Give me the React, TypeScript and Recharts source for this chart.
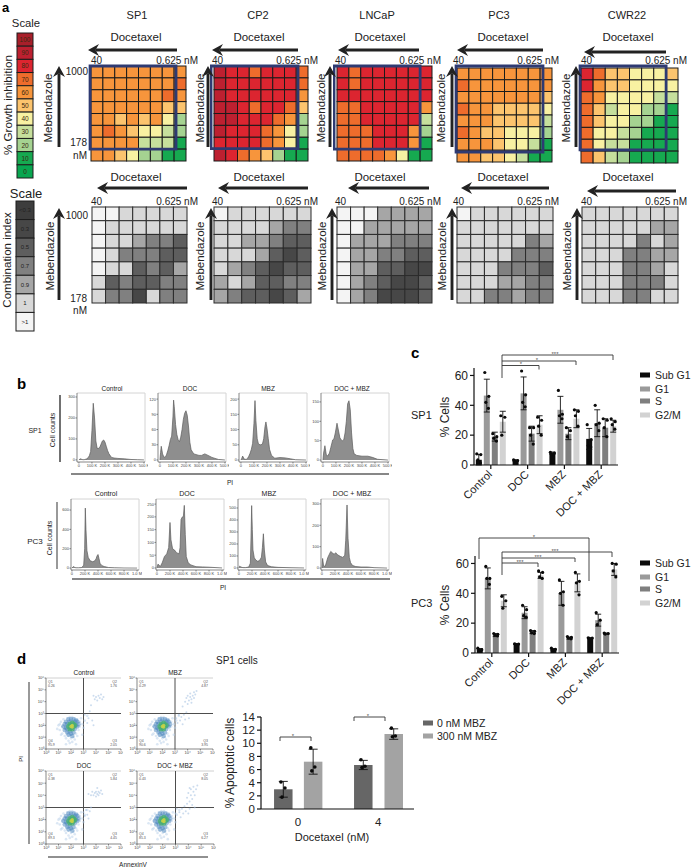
import {
  Area,
  AreaChart,
  Bar,
  Cell,
  ComposedChart,
  ErrorBar,
  Line,
  ReferenceArea,
  ReferenceLine,
  Scatter,
  ScatterChart,
  XAxis,
  YAxis,
} from "recharts";

// ---- panel a: growth inhibition (top to bottom, 40 -> 0.625 nM)
const growthLevels = [100, 90, 80, 70, 60, 50, 40, 30, 20, 10, 0];
const growthColors = ["#a81f2a", "#bd2030", "#dc2530", "#ee6c2c", "#f7953c", "#fcc46e", "#f8f1a2", "#c6df9c", "#a5d391", "#16a950", "#08a650"];
const sp1Growth = [
  [60, 60, 60, 60, 60, 60, 60, 60],
  [60, 60, 60, 60, 60, 60, 60, 70],
  [60, 60, 60, 60, 60, 60, 70, 60],
  [60, 60, 60, 60, 60, 60, 50, 50],
  [60, 60, 50, 60, 50, 60, 40, 20],
  [60, 70, 60, 50, 40, 40, 30, 20],
  [60, 60, 60, 60, 30, 30, 30, 10],
  [60, 60, 50, 40, 20, 20, 10, 10],
];
const cp2Growth = [
  [90, 80, 80, 70, 80, 80, 80, 70],
  [90, 80, 80, 80, 80, 80, 80, 70],
  [90, 80, 80, 80, 80, 80, 80, 60],
  [90, 90, 80, 70, 80, 80, 70, 50],
  [90, 90, 80, 80, 80, 70, 60, 20],
  [90, 80, 80, 80, 70, 60, 40, 20],
  [80, 80, 80, 80, 70, 60, 40, 10],
  [90, 80, 70, 60, 50, 20, 10, 10],
];
const lncapGrowth = [
  [80, 70, 80, 80, 80, 80, 80, 80],
  [80, 70, 80, 80, 80, 80, 80, 80],
  [80, 80, 80, 80, 80, 80, 80, 80],
  [70, 70, 80, 80, 80, 80, 80, 60],
  [70, 70, 80, 80, 80, 80, 80, 30],
  [70, 70, 70, 80, 80, 80, 60, 20],
  [70, 70, 70, 80, 80, 80, 60, 10],
  [70, 70, 70, 70, 60, 40, 10, 10],
];
const pc3Growth = [
  [60, 60, 60, 60, 60, 60, 60, 60],
  [70, 60, 60, 60, 60, 60, 60, 60],
  [60, 60, 60, 60, 60, 60, 60, 50],
  [70, 60, 60, 50, 50, 50, 50, 40],
  [60, 60, 60, 50, 50, 50, 50, 30],
  [70, 60, 50, 50, 40, 40, 40, 20],
  [60, 60, 60, 50, 40, 40, 30, 10],
  [60, 60, 50, 50, 40, 30, 10, 10],
];
const cwr22Growth = [
  [80, 70, 50, 50, 40, 40, 40, 50],
  [80, 60, 50, 50, 40, 40, 40, 40],
  [70, 60, 40, 40, 40, 40, 30, 30],
  [70, 50, 30, 40, 40, 20, 20, 10],
  [70, 50, 40, 40, 20, 20, 10, 10],
  [70, 40, 40, 30, 20, 10, 10, 10],
  [70, 40, 30, 30, 10, 10, 10, 10],
  [70, 50, 30, 20, 10, 10, 10, 10],
];

// ---- panel a: combination index (1.1 stands for ">1", 0.2 for "<0.3")
const ciLabels = ["<0.3", "0.3", "0.5", "0.7", "0.9", "1", ">1"];
const ciLevels = [0.2, 0.3, 0.5, 0.7, 0.9, 1, 1.1];
const ciColors = ["#3d3d3d", "#474747", "#5e5e5e", "#808080", "#a6a6a6", "#d8d8d8", "#f4f4f4"];
const sp1Ci = [
  [1.1, 1.1, 1, 1, 1, 1, 1],
  [1.1, 1, 1, 1, 1, 1, 1],
  [1.1, 1, 1, 0.9, 0.7, 0.7, 0.5],
  [1.1, 1, 0.7, 0.7, 0.7, 0.5, 0.5],
  [1.1, 1, 1, 0.5, 0.7, 0.5, 0.9],
  [1, 0.5, 0.7, 0.5, 0.5, 0.7, 0.7],
  [1, 0.7, 0.7, 0.3, 1, 0.7, 0.7],
];
const cp2Ci = [
  [1.1, 1, 1, 1, 1, 1, 1],
  [1, 1, 1, 1, 0.9, 0.7, 0.7],
  [1, 1, 0.9, 0.9, 0.7, 0.5, 0.5],
  [1, 1, 1, 0.9, 0.5, 0.3, 0.5],
  [1, 0.9, 0.7, 0.5, 0.3, 0.5, 0.5],
  [0.9, 1, 0.9, 0.5, 0.5, 0.7, 0.7],
  [0.9, 0.7, 0.5, 0.5, 0.3, 0.5, 0.9],
];
const lncapCi = [
  [1.1, 1.1, 1.1, 0.9, 0.9, 0.9, 0.9],
  [1.1, 1.1, 0.9, 0.9, 0.9, 0.9, 0.9],
  [1.1, 0.9, 0.9, 0.9, 0.7, 0.7, 0.7],
  [1.1, 0.9, 0.9, 0.7, 0.7, 0.5, 0.5],
  [1.1, 0.9, 0.9, 0.5, 0.5, 0.3, 0.3],
  [1.1, 0.9, 0.7, 0.5, 0.3, 0.3, 0.5],
  [1.1, 0.9, 0.7, 0.3, 0.3, 0.3, 0.5],
];
const pc3Ci = [
  [1.1, 1, 1, 1, 1, 1, 1],
  [1, 1, 1, 1, 1, 1, 1],
  [1, 1, 1, 1, 1, 0.7, 0.9],
  [1, 1, 1, 1, 0.7, 0.7, 0.7],
  [1, 1, 1, 0.7, 0.7, 0.7, 0.5],
  [1, 1, 1, 0.9, 0.9, 0.7, 0.7],
  [1, 1, 0.7, 0.7, 0.9, 0.7, 0.7],
];
const cwr22Ci = [
  [1, 1, 1, 1, 1, 1, 1],
  [1, 1, 1, 1, 1, 0.9, 0.9],
  [1, 1, 1, 1, 0.7, 1, 0.9],
  [1, 1, 1, 0.7, 0.7, 0.9, 0.9],
  [1, 1, 1, 0.7, 0.7, 0.9, 1],
  [1, 1, 1, 0.7, 0.7, 0.7, 1],
  [1, 1, 1, 0.7, 0.7, 1, 1],
];

// ---- panel b: PI histograms, x in thousands
const sp1CtrlX = [0, 10, 20, 30, 40, 50, 60, 70, 80, 90, 100, 110, 120, 130, 140, 150, 160, 170, 180, 190, 200, 210, 220, 230, 250, 270, 300, 350, 400, 450, 500];
const sp1CtrlY = [0, 5, 3, 1, 1, 3, 5, 10, 20, 40, 140, 270, 200, 90, 55, 55, 60, 75, 90, 95, 85, 65, 45, 30, 12, 9, 7, 5, 2, 1, 0];
const sp1DocX = [0, 5, 10, 20, 30, 40, 50, 60, 70, 80, 90, 100, 105, 110, 120, 130, 140, 150, 160, 170, 180, 190, 200, 210, 220, 230, 240, 260, 300, 320, 345, 370, 400, 450, 500];
const sp1DocY = [0, 15, 27, 12, 6, 5, 10, 18, 28, 40, 47, 85, 118, 105, 70, 50, 40, 36, 45, 60, 80, 92, 97, 88, 65, 35, 20, 12, 9, 9, 12, 9, 5, 1, 0];
const sp1MbzX = [0, 5, 13, 25, 40, 50, 60, 70, 80, 90, 100, 108, 115, 125, 135, 150, 165, 175, 185, 192, 200, 210, 220, 235, 260, 300, 340, 380, 420, 500];
const sp1MbzY = [0, 4, 13, 3, 2, 5, 12, 22, 35, 55, 120, 195, 130, 70, 52, 50, 52, 70, 110, 125, 105, 70, 35, 15, 6, 8, 7, 4, 1, 0];
const sp1ComboX = [0, 5, 15, 25, 35, 50, 60, 75, 85, 95, 108, 120, 130, 140, 150, 160, 170, 180, 190, 200, 210, 220, 230, 240, 260, 300, 345, 380, 420, 500];
const sp1ComboY = [0, 18, 37, 15, 10, 18, 32, 52, 55, 70, 95, 75, 58, 52, 50, 52, 70, 100, 145, 153, 130, 70, 30, 16, 12, 10, 10, 7, 2, 0];
const pc3CtrlX = [0, 20, 40, 60, 100, 150, 180, 195, 205, 215, 230, 250, 280, 320, 350, 370, 385, 400, 415, 430, 460, 500, 560, 650, 800, 1000];
const pc3CtrlY = [0, 15, 8, 3, 3, 5, 30, 200, 620, 400, 180, 110, 75, 65, 75, 95, 125, 140, 100, 50, 25, 15, 6, 3, 1, 0];
const pc3DocX = [0, 15, 30, 50, 80, 115, 150, 180, 200, 215, 240, 270, 300, 340, 355, 370, 390, 405, 420, 435, 450, 480, 520, 600, 700, 800, 1000];
const pc3DocY = [0, 15, 12, 5, 20, 45, 55, 80, 178, 110, 75, 70, 60, 55, 80, 190, 200, 200, 245, 130, 45, 20, 12, 5, 4, 3, 0];
const pc3MbzX = [0, 10, 30, 60, 100, 150, 175, 185, 195, 205, 215, 235, 260, 290, 320, 345, 360, 375, 390, 410, 440, 500, 600, 800, 1000];
const pc3MbzY = [0, 15, 8, 3, 3, 8, 40, 250, 520, 320, 150, 85, 65, 55, 65, 90, 170, 285, 150, 50, 20, 10, 5, 2, 0];
const pc3ComboX = [0, 10, 25, 50, 90, 135, 170, 190, 210, 240, 280, 320, 350, 365, 385, 400, 420, 440, 470, 520, 600, 700, 800, 1000];
const pc3ComboY = [0, 45, 10, 8, 50, 78, 68, 65, 72, 62, 55, 50, 60, 130, 295, 140, 50, 25, 12, 7, 5, 5, 2, 0];

const sp1HistTicks = [0, 100, 200, 300, 400, 500];
const pc3HistTicks = [0, 200, 400, 600, 800, 1000];

// ---- panel c: cell cycle, one entry per bar
const cycleGroups = ["Control", "DOC", "MBZ", "DOC + MBZ"];
const cyclePhases = ["Sub G1", "G1", "S", "G2/M"];
const phaseColors = ["#0b0b0b", "#9a9a9a", "#7f7f7f", "#d2d2d2"];
const sp1Means = [3.5, 46.5, 19, 29, 3, 48, 21, 27, 8, 37, 21, 31, 17.5, 28, 25, 26];
const sp1Errors = [3.5, 11, 3, 7, 0.5, 11, 5, 6, 0.7, 9, 4, 6, 7, 9, 6, 4];
const sp1Reps = [
  [7.5, 7, 3.4, 1.5], [62, 46, 42, 38], [21, 19, 18, 16], [33, 32, 20],
  [3.5, 3, 2.8], [63, 47, 42, 39], [25, 25, 20, 14], [32, 30, 26, 20],
  [8.5, 8, 7], [50, 34, 33, 31], [25, 23, 19], [37, 36, 33, 26],
  [27, 17, 13, 12], [40, 28, 27, 23], [31, 30, 25, 19], [31, 29, 27, 24],
];
const pc3Means = [2.5, 50, 12, 35, 6, 27, 14, 52, 2.5, 40, 10, 47, 10, 22, 13, 56];
const pc3Errors = [0.5, 7, 1, 4, 0.3, 4, 1, 2, 0.5, 8, 0.7, 6, 0.3, 4, 0.4, 4];
const pc3Reps = [
  [3.2, 2.2, 2], [58, 50, 50, 46], [13, 12.5, 12, 11.5], [38, 35, 30],
  [6.2, 6, 5.8], [32, 29, 25, 24], [15, 14.5, 13.5, 13], [55, 54, 51, 50],
  [3.2, 2.5, 2], [49, 41, 40, 32], [11, 10.5, 10, 9.5], [54, 48, 47, 39],
  [10.2, 10, 9.8], [27, 22, 19], [13.4, 13, 12.7], [60, 59.5, 55, 51],
];

// ---- panel d: apoptosis bars
const apoCategories = ["0", "4"];
const apoSeries = ["0 nM MBZ", "300 nM MBZ"];
const apoColors = ["#666666", "#a3a3a3"];
const apoMeans = [3, 7.2, 6.7, 11.4];
const apoErrors = [1.2, 1.9, 0.7, 0.8];
const apoReps = [[4.1, 3.2, 1.8], [9.3, 6.4, 5.8], [7.5, 6.5, 6.3], [12.3, 11.1, 11]];

// ---- panel d: AnnexinV/PI dots, both axes in log10 decades
const haloCells = [
  [1.0, 2.0], [1.1, 1.6], [1.2, 2.3], [1.3, 1.9], [1.3, 1.3], [1.4, 2.5], [1.5, 1.1], [1.5, 1.7], [1.6, 2.2], [1.6, 0.9],
  [1.7, 2.6], [1.7, 1.4], [1.8, 0.7], [1.8, 1.1], [1.9, 2.7], [1.9, 0.5], [2.0, 0.9], [2.0, 1.2], [2.1, 2.7], [2.1, 0.6],
  [2.2, 1.0], [2.3, 2.6], [2.3, 0.8], [2.4, 1.3], [2.5, 2.5], [2.5, 1.1], [2.6, 1.6], [2.7, 2.3], [2.7, 1.9], [2.8, 2.6],
  [2.9, 2.1], [3.0, 1.8], [3.1, 2.4], [1.2, 1.2], [2.4, 0.4], [1.6, 0.4], [3.3, 2.8], [2.9, 1.2], [0.9, 1.7], [1.1, 2.1],
];
const midCells = [
  [1.4, 1.9], [1.5, 2.1], [1.5, 1.6], [1.6, 1.8], [1.6, 2.3], [1.7, 1.4], [1.7, 2.1], [1.8, 1.2], [1.8, 2.5], [1.9, 1.5],
  [2.0, 1.3], [2.0, 2.5], [2.1, 1.1], [2.2, 1.4], [2.2, 2.5], [2.3, 1.7], [2.4, 2.4], [2.4, 2.0], [2.5, 1.9], [2.5, 2.3],
  [2.6, 2.1], [1.9, 2.3], [1.7, 1.7], [2.3, 2.3],
];
const coreCells = [[1.8, 1.9], [1.9, 1.7], [1.9, 2.1], [2.0, 1.8], [2.0, 2.0], [2.1, 1.7], [2.1, 2.2], [2.2, 1.9], [2.2, 2.1], [2.3, 2.0]];
const peakCells = [[2.0, 1.9], [2.1, 2.0], [2.1, 1.85]];
const ctrlLate = [[3.1, 2.9], [3.4, 2.6], [3.5, 3.2], [3.7, 2.4], [3.6, 3.7], [3.9, 4.2], [4.0, 4.4], [4.1, 4.1], [4.2, 4.5], [4.3, 4.3], [4.4, 4.6], [4.5, 4.2], [3.8, 4.5], [4.6, 4.4], [3.3, 2.2], [3.8, 2.0]];
const mbzLate = [[3.1, 2.6], [3.2, 2.2], [3.3, 2.9], [3.4, 2.4], [3.5, 2.7], [3.6, 2.1], [3.7, 2.9], [3.8, 2.5], [3.9, 3.1], [4.1, 2.6], [3.6, 3.6], [3.8, 4.0], [3.9, 4.3], [4.0, 4.5], [4.1, 4.1], [4.2, 4.4], [4.2, 4.7], [4.3, 4.2], [4.4, 4.5], [4.5, 4.3], [4.5, 4.8], [4.6, 4.6], [4.7, 4.9], [4.0, 3.8], [4.3, 3.9]];
const docLate = [[3.0, 2.6], [3.1, 2.3], [3.2, 2.8], [3.3, 2.4], [3.4, 2.1], [3.5, 2.7], [3.6, 3.0], [3.4, 4.1], [3.6, 4.0], [3.7, 4.3], [3.8, 4.0], [3.9, 4.2], [4.0, 3.9], [4.0, 4.3], [4.1, 4.1], [4.2, 4.3], [4.2, 4.0], [4.3, 4.2], [4.4, 4.4], [4.5, 4.1], [4.1, 4.6]];
const comboLate = [[3.0, 2.5], [3.1, 2.9], [3.3, 2.6], [3.4, 2.2], [3.5, 2.9], [3.6, 2.5], [3.7, 3.1], [3.8, 2.7], [3.9, 3.3], [4.0, 2.5], [4.1, 2.9], [3.9, 3.8], [4.0, 4.2], [4.1, 3.5], [4.2, 4.0], [4.2, 4.5], [4.3, 3.2], [4.3, 3.7], [4.4, 4.3], [4.4, 4.7], [4.5, 3.0], [4.5, 4.0], [4.6, 4.5], [4.7, 4.8], [4.1, 4.6]];
const ctrlQuad = ["0.26", "1.76", "95.9", "2.05"];
const mbzQuad = ["0.29", "4.87", "90.6", "3.95"];
const docQuad = ["0.38", "5.84", "89.3", "4.45"];
const comboQuad = ["0.43", "8.05", "85.3", "6.27"];

const FONT = "'Liberation Sans', Arial, sans-serif";
const INK = "#222222";

function Place({ x, y, children }: any) {
  return <div style={{ position: "absolute", left: x, top: y }}>{children}</div>;
}

function pick(levels: number[], colors: string[], v: number) {
  return colors[levels.indexOf(v)] ?? "#ffffff";
}

// grid of squares drawn through two hidden numeric axes
function HeatGrid({ rows, levels, colors, box, stroke, labels, labelSize, labelFill }: any) {
  const pad = 4;
  const n = rows.length;
  const m = rows[0].length;
  const cw = box.w / m;
  const ch = box.h / n;
  const cells = rows.flatMap((r: number[], i: number) =>
    r.map((v, j) => ({ col: j + 0.5, row: n - i - 0.5, v, label: labels ? labels[i] : null }))
  );
  return (
    <Place x={box.x - pad} y={box.y - pad}>
      <ScatterChart width={box.w + pad * 2} height={box.h + pad * 2} margin={{ top: pad, right: pad, bottom: pad, left: pad }}>
        <XAxis type="number" dataKey="col" domain={[0, m]} hide />
        <YAxis type="number" dataKey="row" domain={[0, n]} hide />
        <Scatter
          data={cells}
          isAnimationActive={false}
          shape={(p: any) => (
            <g>
              <rect x={p.cx - cw / 2} y={p.cy - ch / 2} width={cw} height={ch} fill={pick(levels, colors, p.payload.v)} stroke={stroke} strokeWidth={1} />
              {p.payload.label != null && (
                <text x={p.cx} y={p.cy} textAnchor="middle" dominantBaseline="central" fontSize={labelSize} fill={labelFill} fontFamily={FONT}>
                  {p.payload.label}
                </text>
              )}
            </g>
          )}
        />
      </ScatterChart>
    </Place>
  );
}

// the blue outline sits in its own chart so that it lies on top of the cells
function GateBox({ box, gate, n }: any) {
  const pad = 4;
  return (
    <Place x={box.x - pad} y={box.y - pad}>
      <ScatterChart width={box.w + pad * 2} height={box.h + pad * 2} margin={{ top: pad, right: pad, bottom: pad, left: pad }}>
        <XAxis type="number" dataKey="col" domain={[0, n]} hide />
        <YAxis type="number" dataKey="row" domain={[0, n]} hide />
        <Scatter data={[{ col: 0, row: 0 }]} isAnimationActive={false} shape={() => <g />} />
        <ReferenceArea x1={gate[0]} x2={gate[1]} y1={gate[2]} y2={gate[3]} fill="none" fillOpacity={0} stroke="#2e3a72" strokeWidth={2.8} ifOverflow="visible" />
      </ScatterChart>
    </Place>
  );
}

function Histogram({ xs, ys, box, xDomain, yDomain, xTicks, yTicks, fmt }: any) {
  const data = xs.map((x: number, i: number) => ({ x, y: ys[i] }));
  const tick = { fontSize: 4, fill: "#444", fontFamily: FONT };
  return (
    <Place x={box.x - 20} y={box.y - 2}>
      <AreaChart width={box.w + 23} height={box.h + 12} data={data} margin={{ top: 2, right: 3, bottom: 0, left: 0 }}>
        <XAxis type="number" dataKey="x" domain={xDomain} ticks={xTicks} interval={0} tick={tick} tickSize={1.5} tickMargin={0.5} height={10} tickFormatter={fmt} stroke="#555" strokeWidth={0.7} />
        <YAxis type="number" domain={yDomain} ticks={yTicks} interval={0} tick={tick} tickSize={1.5} tickMargin={0.5} width={20} stroke="#555" strokeWidth={0.7} />
        <ReferenceLine x={xDomain[1]} stroke="#d4d4d4" strokeWidth={1} />
        <ReferenceLine y={yDomain[1]} stroke="#d4d4d4" strokeWidth={1} />
        <Area type="linear" dataKey="y" baseValue={0} stroke="#5c5c5c" strokeWidth={0.7} fill="#8e8e8e" fillOpacity={1} dot={false} isAnimationActive={false} />
      </AreaChart>
    </Place>
  );
}

const kLabel = (v: number) => (v === 0 ? "0" : `${v} K`);
const mLabel = (v: number) => (v === 0 ? "0" : v === 1000 ? "1.0 M" : `${v} K`);

const repJitter = [-2, 2, -1, 1.6];

function repDot(key: string, rep: number, r: number) {
  return (p: any) => {
    if (p.value == null || p.cy == null) return <g key={`${key}-${p.index}`} />;
    return <circle key={`${key}-${p.index}`} cx={p.cx + repJitter[rep]} cy={p.cy} r={r} fill="#0a0a0a" />;
  };
}

function CycleChart({ means, errors, reps, x, y }: any) {
  const rows = means.map((m: number, i: number) => {
    const row: any = { pos: i + Math.floor(i / 4) * 0.6, mean: m, err: errors[i] };
    reps[i].forEach((v: number, k: number) => (row[`r${k}`] = v));
    return row;
  });
  const centers = cycleGroups.map((_, g) => g * 4.6 + 1.5);
  const labelTick = ({ x: tx, y: ty, payload }: any) => (
    <text x={tx + 2} y={ty + 4} textAnchor="end" fontSize={11} fill={INK} fontFamily={FONT} transform={`rotate(-45 ${tx + 2} ${ty + 4})`}>
      {cycleGroups[centers.indexOf(payload.value)]}
    </text>
  );
  return (
    <Place x={x} y={y}>
      <ComposedChart width={180} height={170} data={rows} margin={{ top: 6, right: 2, bottom: 0, left: 0 }}>
        <XAxis type="number" dataKey="pos" domain={[-0.6, 17.4]} ticks={centers} interval={0} tick={labelTick} height={67} stroke="#111" strokeWidth={1.2} tickSize={4} />
        <YAxis type="number" domain={[0, 65]} ticks={[0, 20, 40, 60]} width={34} tick={{ fontSize: 12, fill: INK, fontFamily: FONT }} stroke="#111" strokeWidth={1.2} tickSize={4} />
        <Bar dataKey="mean" barSize={6} isAnimationActive={false}>
          {rows.map((_: any, i: number) => (
            <Cell key={i} fill={phaseColors[i % 4]} />
          ))}
          <ErrorBar dataKey="err" width={3} stroke="#111" strokeWidth={0.9} isAnimationActive={false} />
        </Bar>
        {[0, 1, 2, 3].map((k) => (
          <Line key={k} dataKey={`r${k}`} stroke="none" dot={repDot(`r${k}`, k, 1.6)} activeDot={false} isAnimationActive={false} />
        ))}
      </ComposedChart>
    </Place>
  );
}

function ApoptosisChart({ x, y }: any) {
  const slots = [-0.5, 0.5, 2.18, 3.2];
  const centers = [0, 2.69];
  const rows = apoMeans.map((m, i) => ({
    pos: slots[i],
    mean: m,
    err: apoErrors[i],
    r0: apoReps[i][0],
    r1: apoReps[i][1],
    r2: apoReps[i][2],
  }));
  return (
    <Place x={x} y={y}>
      <ComposedChart width={185} height={122} data={rows} margin={{ top: 6, right: 2, bottom: 0, left: 0 }}>
        <XAxis
          type="number"
          dataKey="pos"
          domain={[-1.236, 3.89]}
          ticks={centers}
          interval={0}
          tickFormatter={(v: number) => apoCategories[centers.indexOf(v)]}
          tick={{ fontSize: 11.5, fill: INK, fontFamily: FONT }}
          tickLine={false}
          tickMargin={3}
          height={24}
          stroke="#111"
          strokeWidth={1.2}
        />
        <YAxis type="number" domain={[0, 14]} ticks={[0, 2, 4, 6, 8, 10, 12, 14]} interval={0} width={30} tick={{ fontSize: 11.5, fill: INK, fontFamily: FONT }} stroke="#111" strokeWidth={1.2} tickSize={4} />
        <Bar dataKey="mean" barSize={18.5} isAnimationActive={false}>
          {rows.map((_, i) => (
            <Cell key={i} fill={apoColors[i % 2]} />
          ))}
          <ErrorBar dataKey="err" width={4.5} stroke="#111" strokeWidth={0.9} isAnimationActive={false} />
        </Bar>
        {[0, 1, 2].map((k) => (
          <Line key={k} dataKey={`r${k}`} stroke="none" dot={repDot(`a${k}`, k, 1.8)} activeDot={false} isAnimationActive={false} />
        ))}
      </ComposedChart>
    </Place>
  );
}

const SUP = ["\u2070", "\u00b9", "\u00b2", "\u00b3", "\u2074", "\u2075", "\u2076"];
const toPoints = (list: number[][]) => list.map(([a, b]) => ({ a, b }));

function DotPlot({ box, late }: any) {
  const tick = { fontSize: 4, fill: "#444", fontFamily: FONT };
  const layer = (list: number[][], fill: string, r: number, opacity: number, name: string) => (
    <Scatter
      key={name}
      name={name}
      data={toPoints(list)}
      isAnimationActive={false}
      shape={(p: any) => <circle cx={p.cx} cy={p.cy} r={r} fill={fill} fillOpacity={opacity} />}
    />
  );
  return (
    <Place x={box.x - 15} y={box.y - 2}>
      <ScatterChart width={box.w + 17} height={box.h + 11} margin={{ top: 2, right: 2, bottom: 0, left: 0 }}>
        <XAxis type="number" dataKey="a" domain={[0, 6]} ticks={[0, 1, 2, 3, 4, 5, 6]} interval={0} tick={tick} tickSize={1.5} tickMargin={0.5} height={9} tickFormatter={(v: number) => `10${SUP[v]}`} stroke="#555" strokeWidth={0.7} />
        <YAxis type="number" dataKey="b" domain={[0, 6]} ticks={[0, 1, 2, 3, 4, 5, 6]} interval={0} tick={tick} tickSize={1.5} tickMargin={0.5} width={15} tickFormatter={(v: number) => `10${SUP[v]}`} stroke="#555" strokeWidth={0.7} />
        <ReferenceLine y={6} stroke="#d0d0d0" strokeWidth={1} />
        {layer(haloCells, "#b7d0ea", 1.3, 0.5, "halo")}
        {layer(late, "#a3c0e0", 1, 0.55, "late")}
        {layer(midCells, "#4a86be", 2.3, 0.5, "mid")}
        {layer(coreCells, "#47ad75", 2.5, 0.8, "core")}
        {layer(peakCells, "#c5d147", 1.7, 0.9, "peak")}
        <ReferenceLine x={3} stroke="#4d4d4d" strokeWidth={1} />
        <ReferenceLine y={3} stroke="#4d4d4d" strokeWidth={1} />
      </ScatterChart>
    </Place>
  );
}

function Arrow({ x1, y1, x2, y2 }: any) {
  const dx = Math.sign(x2 - x1);
  const dy = Math.sign(y2 - y1);
  const head =
    dx !== 0
      ? `${x2},${y2} ${x2 - dx * 11},${y2 - 6} ${x2 - dx * 7.5},${y2} ${x2 - dx * 11},${y2 + 6}`
      : `${x2},${y2} ${x2 - 6},${y2 - dy * 11} ${x2},${y2 - dy * 7.5} ${x2 + 6},${y2 - dy * 11}`;
  return (
    <g>
      <line x1={x1} y1={y1} x2={x2 - dx * 7.5} y2={y2 - dy * 7.5} stroke="#222" strokeWidth={2.9} />
      <polygon points={head} fill="#222" />
    </g>
  );
}

function Txt({ x, y, s, size = 11, anchor = "middle", rot, weight, fill = INK }: any) {
  return (
    <text
      x={x}
      y={y}
      fontSize={size}
      textAnchor={anchor}
      dominantBaseline="central"
      fontWeight={weight}
      fill={fill}
      fontFamily={FONT}
      transform={rot ? `rotate(${rot} ${x} ${y})` : undefined}
    >
      {s}
    </text>
  );
}

function Bracket({ x1, x2, y, dl, dr, star, sx }: any) {
  return (
    <g>
      <polyline points={`${x1},${y + dl} ${x1},${y} ${x2},${y} ${x2},${y + dr}`} fill="none" stroke="#333" strokeWidth={0.9} />
      <Txt x={sx} y={y - 1.5} s={star} size={6} fill="#555" />
    </g>
  );
}

// layout of panel a, one row per cell line
const growthPanels = [
  { name: "SP1", rows: sp1Growth, title: 137, doc: 136, a: [177, 88], h: 50, x40: 91, nm: 198, av: 59, mb: 48, box: { x: 91, y: 66, w: 95, h: 95 }, gate: [-0.08, 7.16, 1, 8] },
  { name: "CP2", rows: cp2Growth, title: 258, doc: 259, a: [298, 212], h: 50, x40: 212, nm: 318, av: 208, mb: 200, box: { x: 214, y: 66, w: 94, h: 95 }, gate: [-0.25, 7.15, 1.05, 8] },
  { name: "LNCaP", rows: lncapGrowth, title: 377, doc: 380, a: [419, 338], h: 50, x40: 335, nm: 441, av: 330, mb: 321, box: { x: 337, y: 66, w: 95, h: 95 }, gate: [-0.25, 7, 1, 8] },
  { name: "PC3", rows: pc3Growth, title: 499, doc: 503, a: [543, 457], h: 50, x40: 453, nm: 559, av: 452, mb: 441, box: { x: 457, y: 68, w: 95, h: 94 }, gate: [-0.08, 7.24, 0.85, 8.17] },
  { name: "CWR22", rows: cwr22Growth, title: 627, doc: 628, a: [666, 584], h: 52, x40: 581, nm: 687, av: 576, mb: 566, box: { x: 581, y: 68, w: 97, h: 95 }, gate: [-0.08, 7.02, 1.1, 8.17] },
];
const ciPanels = [
  { rows: sp1Ci, doc: 136, a: [187, 97], h: 188, x40: 91, nm: 198, av: 59, mb: 50, box: { x: 92, y: 207, w: 95, h: 96 } },
  { rows: cp2Ci, doc: 259, a: [308, 218], h: 188, x40: 212, nm: 318, av: 211, mb: 200, box: { x: 214, y: 207, w: 97, h: 96 } },
  { rows: lncapCi, doc: 380, a: [429, 348], h: 188, x40: 335, nm: 441, av: 332, mb: 322, box: { x: 337, y: 207, w: 95, h: 96 } },
  { rows: pc3Ci, doc: 503, a: [549, 461], h: 188, x40: 453, nm: 559, av: 452, mb: 442, box: { x: 457, y: 207, w: 96, h: 96 } },
  { rows: cwr22Ci, doc: 628, a: [676, 587], h: 191, x40: 581, nm: 687, av: 577, mb: 567, box: { x: 582, y: 207, w: 96, h: 96 } },
];
const histTitles = ["Control", "DOC", "MBZ", "DOC + MBZ"];
const sp1Hists = [
  { xs: sp1CtrlX, ys: sp1CtrlY, x: 77, yDomain: [-10, 319], yTicks: [0, 100, 200, 300], t: 112 },
  { xs: sp1DocX, ys: sp1DocY, x: 158, yDomain: [-4, 132], yTicks: [0, 30, 60, 90, 120], t: 190 },
  { xs: sp1MbzX, ys: sp1MbzY, x: 239, yDomain: [-6.5, 220], yTicks: [0, 50, 100, 150, 200], t: 268 },
  { xs: sp1ComboX, ys: sp1ComboY, x: 321, yDomain: [-5, 173], yTicks: [0, 50, 100, 150], t: 352 },
];
const pc3Hists = [
  { xs: pc3CtrlX, ys: pc3CtrlY, x: 71, yDomain: [-20, 714], yTicks: [0, 200, 400, 600], t: 106 },
  { xs: pc3DocX, ys: pc3DocY, x: 156, yDomain: [-8, 270], yTicks: [0, 50, 100, 150, 200, 250], t: 187 },
  { xs: pc3MbzX, ys: pc3MbzY, x: 238, yDomain: [-17, 575], yTicks: [0, 100, 200, 300, 400, 500], t: 269 },
  { xs: pc3ComboX, ys: pc3ComboY, x: 321, yDomain: [-9, 323], yTicks: [0, 100, 200, 300], t: 352 },
];
const dotPanels = [
  { title: "Control", late: ctrlLate, quad: ctrlQuad, box: { x: 46, y: 678, w: 75, h: 71 } },
  { title: "MBZ", late: mbzLate, quad: mbzQuad, box: { x: 137, y: 678, w: 76, h: 71 } },
  { title: "DOC", late: docLate, quad: docQuad, box: { x: 46, y: 771, w: 75, h: 73 } },
  { title: "DOC + MBZ", late: comboLate, quad: comboQuad, box: { x: 137, y: 771, w: 77, h: 73 } },
];
const quadNames = ["Q1", "Q2", "Q4", "Q3"];

export default function App() {
  return (
    <div style={{ position: "absolute", left: 0, top: 0, width: 692, height: 868, background: "#fff", overflow: "hidden", fontFamily: FONT }}>
      {/* panel a */}
      <HeatGrid rows={growthLevels.map((v) => [v])} levels={growthLevels} colors={growthColors} box={{ x: 17, y: 33, w: 16, h: 145 }} stroke="#1c1c1c" labels={growthLevels.map(String)} labelSize={6.5} labelFill="#3a2a10" />
      <HeatGrid rows={ciLevels.map((v) => [v])} levels={ciLevels} colors={ciColors} box={{ x: 16, y: 201, w: 18, h: 130 }} stroke="#1c1c1c" labels={ciLabels} labelSize={6} labelFill="#222" />
      {growthPanels.map((p) => (
        <HeatGrid key={p.name} rows={p.rows} levels={growthLevels} colors={growthColors} box={p.box} stroke="#1a1a1a" />
      ))}
      {growthPanels.map((p) => (
        <GateBox key={p.name} box={p.box} gate={p.gate} n={8} />
      ))}
      {ciPanels.map((p, i) => (
        <HeatGrid key={i} rows={p.rows} levels={ciLevels} colors={ciColors} box={p.box} stroke="#2b2b2b" />
      ))}

      {/* panel b */}
      {sp1Hists.map((h, i) => (
        <Histogram key={i} xs={h.xs} ys={h.ys} box={{ x: h.x, y: 393, w: 68, h: 69 }} xDomain={[-15, 508]} yDomain={h.yDomain} xTicks={sp1HistTicks} yTicks={h.yTicks} fmt={kLabel} />
      ))}
      {pc3Hists.map((h, i) => (
        <Histogram key={i} xs={h.xs} ys={h.ys} box={{ x: h.x, y: 499, w: 68, h: 71 }} xDomain={[-15, 1030]} yDomain={h.yDomain} xTicks={pc3HistTicks} yTicks={h.yTicks} fmt={mLabel} />
      ))}

      {/* panel c */}
      <CycleChart means={sp1Means} errors={sp1Errors} reps={sp1Reps} x={440} y={362} />
      <CycleChart means={pc3Means} errors={pc3Errors} reps={pc3Reps} x={441} y={550} />

      {/* panel d */}
      {dotPanels.map((p) => (
        <DotPlot key={p.title} box={p.box} late={p.late} />
      ))}
      <ApoptosisChart x={231} y={711} />

      {/* labels, arrows, brackets */}
      <svg width={692} height={868} style={{ position: "absolute", left: 0, top: 0, pointerEvents: "none" }}>
        <Txt x={2} y={7} s="a" size={13} weight="bold" anchor="start" fill="#000" />
        <Txt x={26} y={23} s="Scale" size={11.3} />
        <Txt x={26} y={193} s="Scale" size={13} />
        <Txt x={7} y={105} s="% Growth inhibition" size={11.6} rot={-90} />
        <Txt x={7} y={260} s="Combination index" size={11.5} rot={-90} />
        {growthPanels.map((p) => (
          <g key={p.name}>
            <Txt x={p.title} y={15} s={p.name} size={11} />
            <Txt x={p.doc} y={37} s="Docetaxel" size={11.5} />
            <Arrow x1={p.a[0]} y1={p.h} x2={p.a[1]} y2={p.h} />
            <Txt x={p.x40} y={60} s="40" size={10} anchor="start" />
            <Txt x={p.nm} y={60} s="0.625 nM" size={10} anchor="end" />
            <Arrow x1={p.av} y1={147} x2={p.av} y2={66} />
            <Txt x={p.mb} y={108} s="Mebendazole" size={11.5} rot={-90} />
          </g>
        ))}
        {ciPanels.map((p, i) => (
          <g key={i}>
            <Txt x={p.doc} y={177} s="Docetaxel" size={11.5} />
            <Arrow x1={p.a[0]} y1={p.h} x2={p.a[1]} y2={p.h} />
            <Txt x={p.x40} y={201} s="40" size={10} anchor="start" />
            <Txt x={p.nm} y={201} s="0.625 nM" size={10} anchor="end" />
            <Arrow x1={p.av} y1={300} x2={p.av} y2={208} />
            <Txt x={p.mb} y={256} s="Mebendazole" size={11.5} rot={-90} />
          </g>
        ))}
        {[[71, 142, 155], [215, 298, 310]].map(([a, b, c]) => (
          <g key={a}>
            <Txt x={88} y={a} s="1000" size={10} anchor="end" />
            <Txt x={87} y={b} s="178" size={10} anchor="end" />
            <Txt x={87} y={c} s="nM" size={10} anchor="end" />
          </g>
        ))}

        <Txt x={17} y={383} s="b" size={15} weight="bold" anchor="start" fill="#000" />
        <Txt x={35} y={430} s="SP1" size={7} />
        <Txt x={35} y={541} s="PC3" size={8} />
        <Txt x={52} y={430} s="Cell counts" size={7} rot={-90} />
        <Txt x={49} y={538} s="Cell counts" size={7} rot={-90} />
        <line x1={60} y1={395} x2={60} y2={462} stroke="#111" strokeWidth={1.2} />
        <line x1={57} y1={502} x2={57} y2={569} stroke="#555" strokeWidth={1.2} />
        {sp1Hists.map((h, i) => (
          <Txt key={i} x={h.t} y={388} s={histTitles[i]} size={6.5} />
        ))}
        {pc3Hists.map((h, i) => (
          <Txt key={i} x={h.t} y={493} s={histTitles[i]} size={7} />
        ))}
        <line x1={71} y1={474} x2={389} y2={474} stroke="#111" strokeWidth={1.2} />
        <line x1={72} y1={579} x2={390} y2={579} stroke="#111" strokeWidth={1.2} />
        <Txt x={230} y={482} s="PI" size={6.5} />
        <Txt x={223} y={587} s="PI" size={6.5} />

        <Txt x={411} y={352} s="c" size={15} weight="bold" anchor="start" fill="#000" />
        <Txt x={411} y={415} s="SP1" size={11} anchor="start" />
        <Txt x={411} y={603} s="PC3" size={11} anchor="start" />
        <Txt x={445} y={417} s="% Cells" size={12} rot={-90} />
        <Txt x={445} y={605} s="% Cells" size={12} rot={-90} />
        <Bracket x1={502} x2={613} y={355} dl={23} dr={5} star="***" sx={555} />
        <Bracket x1={502} x2={576} y={361} dl={0} dr={4} star="*" sx={537} />
        <Bracket x1={502} x2={539} y={365.5} dl={0} dr={4} star="*" sx={521} />
        <Bracket x1={479} x2={589} y={538} dl={21} dr={43} star="*" sx={534} />
        <Bracket x1={502} x2={612} y={552} dl={23} dr={5} star="***" sx={555} />
        <Bracket x1={502} x2={575} y={558} dl={0} dr={4} star="***" sx={538} />
        <Bracket x1={502} x2={538} y={563} dl={0} dr={4} star="***" sx={520} />
        {[[375, 389, 401, 415], [563, 577, 589, 603]].map((ys) =>
          ys.map((yy, i) => (
            <g key={yy}>
              <rect x={640} y={yy - 2.5} width={10} height={5} fill={phaseColors[i]} />
              <Txt x={655} y={yy} s={cyclePhases[i]} size={10.5} anchor="start" />
            </g>
          ))
        )}

        <Txt x={17} y={658} s="d" size={15} weight="bold" anchor="start" fill="#000" />
        <Txt x={216} y={660} s="SP1 cells" size={10} anchor="start" />
        {dotPanels.map((p) => (
          <g key={p.title}>
            <Txt x={p.box.x + 38} y={p.box.y - 6} s={p.title} size={6.5} />
            {p.quad.map((q, i) => {
              const right = i === 1 || i === 3;
              const qx = right ? p.box.x + 71 : p.box.x + 2;
              const qy = i < 2 ? p.box.y + 4 : p.box.y + 63;
              return (
                <g key={i}>
                  <Txt x={qx} y={qy} s={quadNames[i]} size={3.5} anchor={right ? "end" : "start"} fill="#555" />
                  <Txt x={qx} y={qy + 4} s={q} size={3.5} anchor={right ? "end" : "start"} fill="#555" />
                </g>
              );
            })}
          </g>
        ))}
        <line x1={29} y1={682} x2={29} y2={844} stroke="#555" strokeWidth={1.2} />
        <Txt x={21} y={759} s="PI" size={6} rot={-90} />
        <line x1={48} y1={857} x2={208} y2={857} stroke="#222" strokeWidth={1.2} />
        <Txt x={133} y={864} s="AnnexinV" size={6.5} />
        <Txt x={230} y={763} s="% Apoptotic cells" size={12} rot={-90} />
        <Txt x={332} y={837} s="Docetaxel (nM)" size={11} />
        <Bracket x1={280} x2={311} y={737} dl={4} dr={4} star="*" sx={293} />
        <Bracket x1={354} x2={385} y={717} dl={4} dr={4} star="*" sx={368} />
        {apoSeries.map((s, i) => (
          <g key={s}>
            <rect x={423} y={720.5 + i * 13} width={10} height={5} fill={apoColors[i]} />
            <Txt x={437} y={723 + i * 13} s={s} size={10.5} anchor="start" />
          </g>
        ))}
      </svg>
    </div>
  );
}
